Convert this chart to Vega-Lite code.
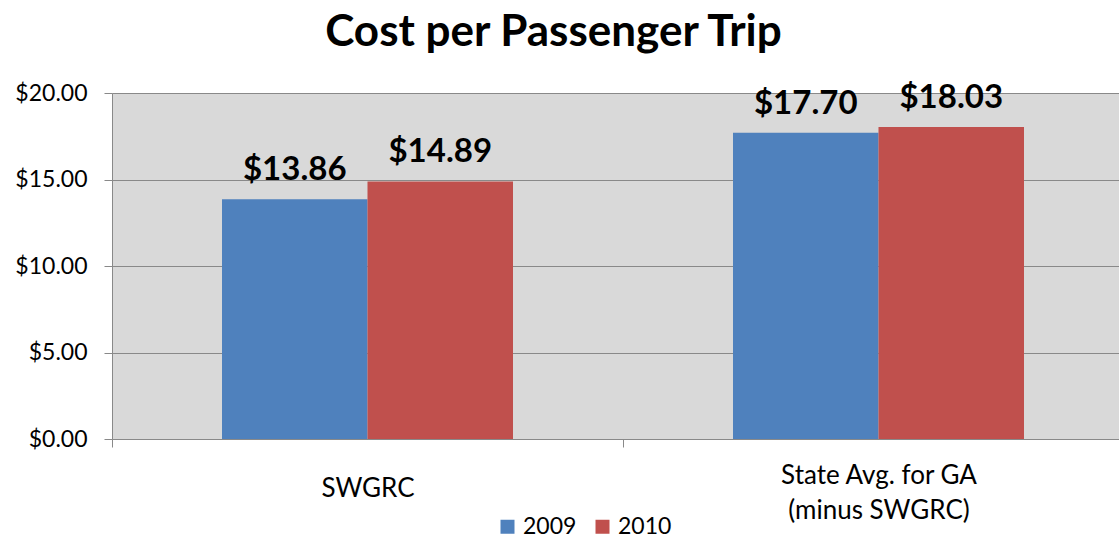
{
  "$schema": "https://vega.github.io/schema/vega-lite/v6.json",
  "autosize": "none",
  "padding": {"left": 112, "top": 93, "right": 0, "bottom": 101},
  "width": 1007,
  "height": 346,
  "background": "white",
  "title": {
    "text": "Cost per Passenger Trip",
    "font": "Lato",
    "fontSize": 44,
    "fontWeight": "bold",
    "color": "black",
    "anchor": "middle",
    "offset": 27,
    "dx": -62
  },
  "config": {
    "view": {"fill": "#d9d9d9", "stroke": null},
    "font": "Lato"
  },
  "data": {
    "values": [
      {"Category": "SWGRC", "Year": "2009", "Cost": 13.86},
      {"Category": "SWGRC", "Year": "2010", "Cost": 14.89},
      {"Category": "State Avg. for GA|(minus SWGRC)", "Year": "2009", "Cost": 17.70},
      {"Category": "State Avg. for GA|(minus SWGRC)", "Year": "2010", "Cost": 18.03}
    ]
  },
  "encoding": {
    "x": {
      "field": "Category",
      "type": "nominal",
      "sort": null,
      "scale": {"range": [0, 1022], "paddingInner": 0, "paddingOuter": 0},
      "axis": {
        "title": null,
        "labelAngle": 0,
        "labelExpr": "split(datum.label, '|')",
        "labelFont": "Lato",
        "labelFontSize": 26,
        "labelColor": "black",
        "labelBaseline": {"condition": {"test": "datum.value == 'SWGRC'", "value": "middle"}, "value": "bottom"},
        "labelLineHeight": 35,
        "labelPadding": 41,
        "tickBand": "extent",
        "tickSize": 8,
        "tickColor": "#898989",
        "domainColor": "#898989",
        "labelLimit": 400
      }
    },
    "xOffset": {
      "field": "Year",
      "type": "nominal",
      "scale": {"paddingInner": 0, "paddingOuter": 0.756}
    },
    "y": {
      "field": "Cost",
      "type": "quantitative",
      "scale": {"domain": [0, 20]},
      "axis": {
        "title": null,
        "values": [0, 5, 10, 15, 20],
        "format": "$.2f",
        "labelFont": "Lato",
        "labelFontSize": 23,
        "labelColor": "black",
        "labelPadding": 17,
        "tickSize": 8,
        "tickColor": "#898989",
        "domainColor": "#898989",
        "gridColor": "#898989",
        "gridOpacity": 1,
        "grid": true
      }
    }
  },
  "layer": [
    {
      "mark": {"type": "bar"},
      "encoding": {
        "color": {
          "field": "Year",
          "type": "nominal",
          "scale": {"domain": ["2009", "2010"], "range": ["#4f81bd", "#c0504d"]},
          "legend": {
            "title": null,
            "orient": "none",
            "direction": "horizontal",
            "legendX": 384,
            "legendY": 422,
            "symbolType": "square",
            "symbolSize": 196,
            "symbolStrokeWidth": 0,
            "labelFont": "Lato",
            "labelFontSize": 23,
            "labelColor": "black",
            "labelOffset": 4,
            "columnPadding": 14
          }
        }
      }
    },
    {
      "mark": {
        "type": "text",
        "baseline": "alphabetic",
        "dy": -19,
        "font": "Lato",
        "fontSize": 33,
        "fontWeight": "bold",
        "color": "black"
      },
      "encoding": {
        "text": {"field": "Cost", "type": "quantitative", "format": "$.2f"}
      }
    }
  ]
}
